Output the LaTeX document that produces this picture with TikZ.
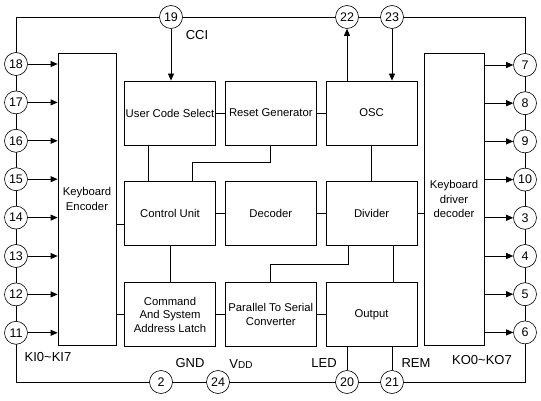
\documentclass[tikz,border=0pt]{standalone}
\usepackage{fontspec}
\setmainfont{Liberation Sans}
\usetikzlibrary{arrows.meta, positioning, calc}

\begin{document}
\begin{tikzpicture}[
    x=1pt, y=-1pt,
    font=\fontsize{11.3}{13.5}\selectfont,
    node distance=36pt and 9pt,
    blk/.style={rectangle, draw, line width=0.8pt, minimum width=91pt, minimum height=64pt,
        align=center, inner sep=1pt},
    tallblk/.style={rectangle, draw, line width=0.8pt, minimum width=#1, minimum height=292pt,
        align=center, inner sep=1pt, font=\fontsize{11.3}{14.5}\selectfont},
    pinc/.style={circle, draw, fill=white, line width=0.6pt, minimum size=23pt, inner sep=0pt,
        font=\fontsize{12.5}{13}\selectfont},
    arr/.style={-{Triangle[length=7pt, width=6pt]}, line width=0.8pt},
    wire/.style={line width=0.8pt},
    lbl/.style={inner sep=0pt, font=\fontsize{13}{14}\selectfont},
]
\useasboundingbox (0,0) rectangle (541,401);

% Outer frame
\coordinate (tl) at (16,17);
\coordinate (br) at (525,382);
\draw[wire] (tl) rectangle (br);

% Side blocks
\node[tallblk=58pt] (enc) at (87,199) {Keyboard\\Encoder};
\node[tallblk=60pt] (drv) at (454,199) {Keyboard\\driver\\decoder};

% Row 1
\node[blk] (ucs) at (170,113) {User Code Select};
\node[blk, right=of ucs] (rst) {Reset Generator};
\node[blk, right=of rst] (osc) {OSC};

% Row 2
\node[blk, below=of ucs] (ctl) {Control Unit};
\node[blk, below=of rst] (dec) {Decoder};
\node[blk, below=of osc] (div) {Divider};

% Row 3
\node[blk, below=of ctl] (cmd) {Command\\And System\\Address Latch};
\node[blk, below=of dec] (p2s) {Parallel To Serial\\Converter};
\node[blk, below=of div] (out) {Output};

% Internal wiring
\draw[wire] (ucs) -- (rst);
\draw[wire] (rst) -- (osc);
\draw[wire] ([xshift=-22pt]ucs.south) -- ([xshift=-22pt]ctl.north);
\draw[wire] (rst.south) -- ++(0,17) -| ([xshift=22pt]ctl.north);
\draw[wire] (osc) -- (div);
\draw[wire] (ctl) -- (dec);
\draw[wire] (dec) -- (div);
\draw[wire] (div) -- (div -| drv.west);
\draw[wire] ($(ctl.west)+(0,11)$) -- ($(enc.east |- ctl.west)+(0,11)$);
\draw[wire] (cmd) -- (cmd -| enc.east);
\draw[wire] (ctl) -- (cmd);
\draw[wire] (cmd) -- (p2s);
\draw[wire] (p2s) -- (out);
\draw[wire] ([xshift=-23pt]div.south) -- ++(0,18) -| (p2s.north);
\draw[wire] ([xshift=22pt]div.south) -- ([xshift=22pt]out.north);

% Left pins KI0~KI7
\foreach \n [count=\i] in {18,17,16,15,14,13,12,11} {
    \node[pinc] (p\n) at (16, 25.6+38.4*\i) {\n};
    \draw[arr] (p\n) -- (p\n -| enc.west);
}

% Right pins KO0~KO7
\foreach \n [count=\i] in {7,8,9,10,3,4,5,6} {
    \node[pinc] (p\n) at (525, 26.8+38.2*\i) {\n};
    \draw[arr] (p\n -| drv.east) -- (p\n);
}

% Top pins
\node[pinc] (p19) at (171,17) {19};
\node[pinc] (p22) at (347,17) {22};
\node[pinc] (p23) at (392,17) {23};
\draw[arr] (p19) -- (p19 |- ucs.north);
\draw[arr] (p22 |- osc.north) -- (p22);
\draw[arr] (p23) -- (p23 |- osc.north);

% Bottom pins
\node[pinc] (p2) at (161,382) {2};
\node[pinc] (p24) at (218,382) {24};
\node[pinc] (p20) at (347,382) {20};
\node[pinc] (p21) at (392,382) {21};
\draw[wire] (p20 |- out.south) -- (p20);
\draw[wire] (p21 |- out.south) -- (p21);

% Pin labels
\node[lbl] (cci) at (197,35) {CCI};
\node[lbl] (gnd) at (190,363) {GND};
\node[lbl] (vdd) at (241,364) {V{\fontsize{10}{10}\selectfont DD}};
\node[lbl] (led) at (324,363) {LED};
\node[lbl] (rem) at (416,363) {REM};
\node[lbl] (kin) at (48,357) {KI0\textasciitilde KI7};
\node[lbl] (kout) at (482,360) {KO0\textasciitilde KO7};

\end{tikzpicture}
\end{document}
